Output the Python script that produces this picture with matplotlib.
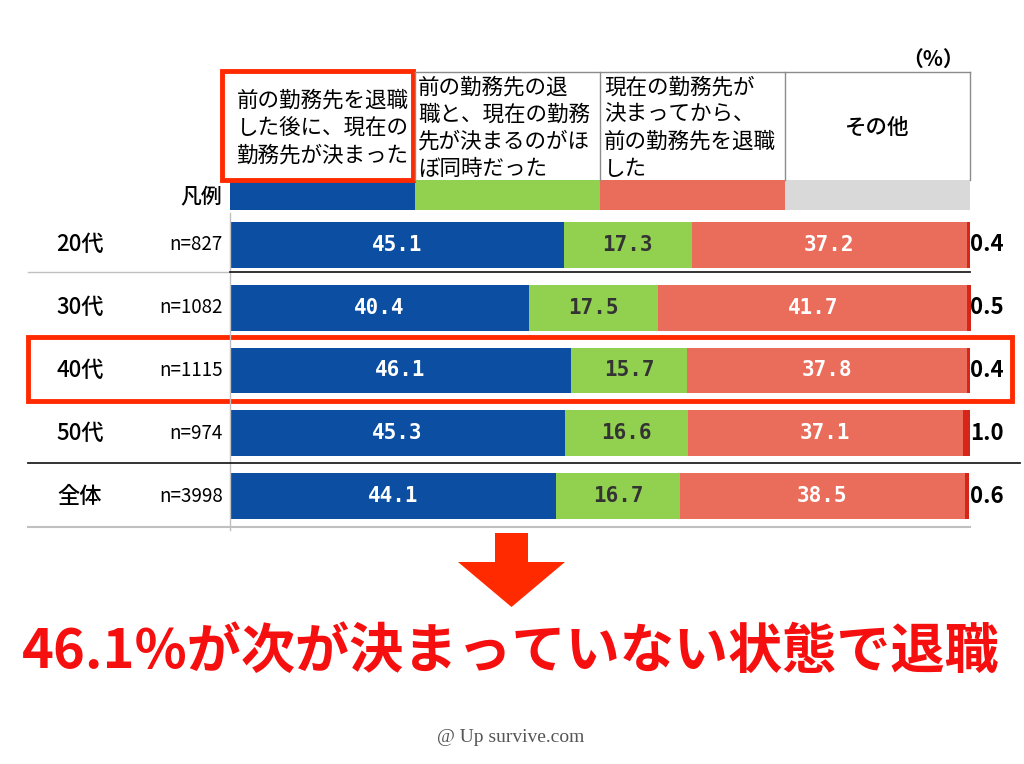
import matplotlib
matplotlib.use('Agg')
import matplotlib.pyplot as plt
from matplotlib.patches import Rectangle, Polygon

plt.rcParams['font.family'] = ['Noto Sans CJK JP', 'DejaVu Sans']

# datos del grafico (%)
grupos = ['20代', '30代', '40代', '50代', '全体']
muestras = ['n=827', 'n=1082', 'n=1115', 'n=974', 'n=3998']
antes = [45.1, 40.4, 46.1, 45.3, 44.1]
mismo = [17.3, 17.5, 15.7, 16.6, 16.7]
despues = [37.2, 41.7, 37.8, 37.1, 38.5]
otros = [0.4, 0.5, 0.4, 1.0, 0.6]

categorias = ['前の勤務先を退職\nした後に、現在の\n勤務先が決まった',
              '前の勤務先の退\n職と、現在の勤務\n先が決まるのがほ\nぼ同時だった',
              '現在の勤務先が\n決まってから、\n前の勤務先を退職\nした',
              'その他']
titulo = '46.1%が次が決まっていない状態で退職'

azul = '#0B4EA2'
verde = '#92D050'
salmon = '#EA6D5B'
rojo_oscuro = '#D6261A'
gris = '#D9D9D9'
rojo = '#FF2A00'

W, H = 1024, 764

def caja(x0, y0, x1, y1):
    # pasa pixeles (origen arriba a la izquierda) a coordenadas de figura
    return [x0 / W, 1 - y1 / H, (x1 - x0) / W, (y1 - y0) / H]

fig = plt.figure(figsize=(W / 100, H / 100), dpi=100)

# barras apiladas
ax = fig.add_axes(caja(230, 213.6, 970, 527.4))
ax.set_xlim(0, 100)
ax.set_ylim(4.5, -0.5)
ax.axis('off')

mono = ['DejaVu Sans Mono']
filas = range(len(grupos))
izq = [0.0] * len(grupos)
series = [(antes, azul, 'white'), (mismo, verde, '#333333'), (despues, salmon, 'white')]
for valores, color, ctexto in series:
    ax.barh(filas, valores, left=izq, height=0.73, color=color)
    for i, v in enumerate(valores):
        ax.text(izq[i] + v / 2, i, f'{v:.1f}', ha='center', va='center',
                color=ctexto, fontsize=15, family=mono, fontweight='bold')
    izq = [a + b for a, b in zip(izq, valores)]
ax.barh(filas, otros, left=izq, height=0.73, color=rojo_oscuro, clip_on=False)
for i, v in enumerate(otros):
    ax.text(100.05, i, f'{v:.1f}', ha='left', va='center', fontsize=16,
            fontweight='bold', color='black')

# etiquetas de la izquierda
for i in filas:
    ax.text(-20.3, i, grupos[i], ha='center', va='center', fontsize=16,
            fontweight='medium')
    ax.text(-0.95, i, muestras[i], ha='right', va='center', fontsize=13.5)

# capa de adornos en pixeles
ov = fig.add_axes([0, 0, 1, 1])
ov.set_xlim(0, W)
ov.set_ylim(H, 0)
ov.axis('off')
ov.patch.set_visible(False)

bordes = [230 + 740 * k / 4 for k in range(5)]
colores_leyenda = [azul, verde, salmon, gris]
for k in range(4):
    ov.add_patch(Rectangle((bordes[k], 180), bordes[k + 1] - bordes[k], 30,
                           color=colores_leyenda[k], lw=0))
ov.text(222, 196, '凡例', ha='right', va='center', fontsize=15, fontweight='medium')

# tabla de cabecera
ov.plot([bordes[1], bordes[4]], [72, 72], color='#8c8c8c', lw=1)
for x in bordes[1:]:
    ov.plot([x, x], [72, 180], color='#8c8c8c', lw=1)
ov.text((bordes[0] + bordes[1]) / 2, 128, categorias[0], ha='center', va='center',
        multialignment='center', fontsize=15.5, linespacing=1.3)
ov.text(bordes[1] + 3, 128, categorias[1], ha='left', va='center',
        fontsize=15.5, linespacing=1.3)
ov.text(bordes[2] + 4, 128, categorias[2], ha='left', va='center',
        fontsize=15.5, linespacing=1.3)
ov.text((bordes[3] + bordes[4]) / 2, 128, categorias[3], ha='center', va='center',
        fontsize=15.5, fontweight='medium')
ov.text(964, 59, '（%）', ha='right', va='center', fontsize=15, fontweight='bold')

# lineas de separacion
ov.plot([230, 230], [213, 530], color='#c0c0c0', lw=1)
ov.plot([28, 230], [272, 272], color='#c0c0c0', lw=1)
ov.plot([230, 970], [272, 272], color='#222222', lw=1.3)
ov.plot([28, 1020], [463, 463], color='#222222', lw=1.3)
ov.plot([28, 970], [527, 527], color='#c0c0c0', lw=1.5)

# recuadros rojos
ov.add_patch(Rectangle((222, 71), 191, 109, fill=False, edgecolor=rojo, lw=3.5))
ov.add_patch(Rectangle((28, 337), 984, 64, fill=False, edgecolor=rojo, lw=3.5))

# flecha y conclusion
ov.add_patch(Polygon([(495, 533), (528, 533), (528, 562), (565, 562),
                      (511.5, 607), (458, 562), (495, 562)], color=rojo, lw=0))
ov.text(511, 652, titulo, ha='center', va='center', fontsize=39,
        fontweight='bold', color='#F50F0F')
ov.text(511, 737, '@ Up survive.com', ha='center', va='center', fontsize=14,
        family='Liberation Serif', color='#555555')

fig.savefig('out.png', dpi=100)
